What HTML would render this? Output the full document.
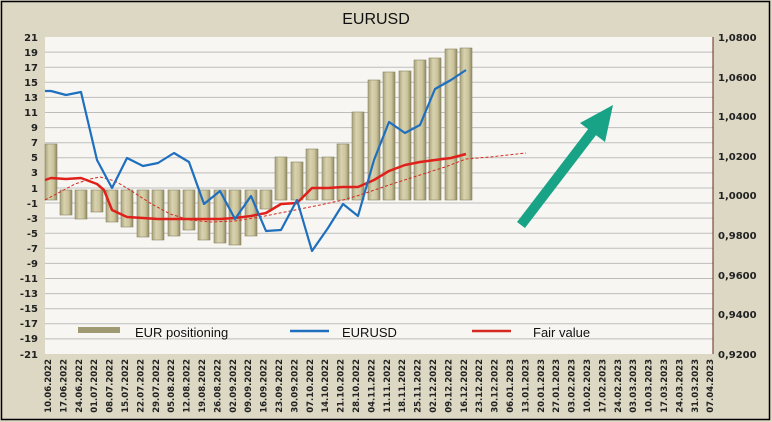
<!DOCTYPE html>
<html><head><meta charset="utf-8"><style>
html,body{margin:0;padding:0;background:#dcd8c4;}
svg{display:block;font-family:"DejaVu Sans","Liberation Sans",sans-serif;}
</style></head><body>
<svg width="772" height="422" viewBox="0 0 772 422" xmlns="http://www.w3.org/2000/svg">
<defs>
<linearGradient id="bar" x1="0" x2="1" y1="0" y2="0">
<stop offset="0" stop-color="#a9a27c"/><stop offset="0.35" stop-color="#d8d2ae"/><stop offset="0.7" stop-color="#cbc49c"/><stop offset="1" stop-color="#8f8863"/>
</linearGradient>
</defs>
<rect x="0" y="0" width="772" height="422" fill="#dcd8c4"/>
<rect x="1.5" y="1.5" width="768" height="418" fill="none" stroke="#000" stroke-width="1.5"/>
<text x="376" y="24" font-size="16" text-anchor="middle" font-family="Liberation Sans, sans-serif" fill="#111">EURUSD</text>
<rect x="45" y="37" width="668" height="317" fill="#f7f6f2"/>
<g stroke="#bdbdbd" stroke-width="1">
<line x1="45" x2="713" y1="52.1" y2="52.1"/><line x1="45" x2="713" y1="67.2" y2="67.2"/><line x1="45" x2="713" y1="82.3" y2="82.3"/><line x1="45" x2="713" y1="97.4" y2="97.4"/><line x1="45" x2="713" y1="112.5" y2="112.5"/><line x1="45" x2="713" y1="127.6" y2="127.6"/><line x1="45" x2="713" y1="142.7" y2="142.7"/><line x1="45" x2="713" y1="157.8" y2="157.8"/><line x1="45" x2="713" y1="172.9" y2="172.9"/><line x1="45" x2="713" y1="188" y2="188"/><line x1="45" x2="713" y1="203" y2="203"/><line x1="45" x2="713" y1="218.1" y2="218.1"/><line x1="45" x2="713" y1="233.2" y2="233.2"/><line x1="45" x2="713" y1="248.3" y2="248.3"/><line x1="45" x2="713" y1="263.4" y2="263.4"/><line x1="45" x2="713" y1="278.5" y2="278.5"/><line x1="45" x2="713" y1="293.6" y2="293.6"/><line x1="45" x2="713" y1="308.7" y2="308.7"/><line x1="45" x2="713" y1="323.8" y2="323.8"/><line x1="45" x2="713" y1="338.9" y2="338.9"/>
</g>
<line x1="713" x2="713" y1="37" y2="354" stroke="#6b2a1a" stroke-width="1"/>
<g font-size="10" font-weight="bold" fill="#222" text-anchor="end">
<text x="38" y="41">21</text><text x="38" y="56">19</text><text x="38" y="71">17</text><text x="38" y="86">15</text><text x="38" y="101">13</text><text x="38" y="116">11</text><text x="38" y="131">9</text><text x="38" y="146">7</text><text x="38" y="161">5</text><text x="38" y="176">3</text><text x="38" y="192">1</text><text x="38" y="207">-1</text><text x="38" y="222">-3</text><text x="38" y="237">-5</text><text x="38" y="252">-7</text><text x="38" y="267">-9</text><text x="38" y="282">-11</text><text x="38" y="297">-13</text><text x="38" y="312">-15</text><text x="38" y="327">-17</text><text x="38" y="342">-19</text><text x="38" y="358">-21</text>
</g>
<g font-size="10" font-weight="bold" fill="#222">
<text x="718" y="41">1,0800</text><text x="718" y="81">1,0600</text><text x="718" y="120">1,0400</text><text x="718" y="160">1,0200</text><text x="718" y="199">1,0000</text><text x="718" y="239">0,9800</text><text x="718" y="279">0,9600</text><text x="718" y="318">0,9400</text><text x="718" y="358">0,9200</text>
</g>
<g fill="url(#bar)" stroke="#8a8463" stroke-width="0.6">
<rect x="45" y="144" width="12" height="56"/>
<rect x="60" y="190" width="12" height="25"/>
<rect x="75" y="190" width="12" height="29"/>
<rect x="91" y="190" width="12" height="22"/>
<rect x="106" y="190" width="12" height="32"/>
<rect x="121" y="190" width="12" height="37"/>
<rect x="137" y="190" width="12" height="47"/>
<rect x="152" y="190" width="12" height="50"/>
<rect x="168" y="190" width="12" height="46"/>
<rect x="183" y="190" width="12" height="40"/>
<rect x="198" y="190" width="12" height="50"/>
<rect x="214" y="190" width="12" height="53"/>
<rect x="229" y="190" width="12" height="55"/>
<rect x="245" y="190" width="12" height="46"/>
<rect x="260" y="190" width="12" height="19"/>
<rect x="275" y="157" width="12" height="43"/>
<rect x="291" y="162" width="12" height="38"/>
<rect x="306" y="149" width="12" height="51"/>
<rect x="322" y="157" width="12" height="43"/>
<rect x="337" y="144" width="12" height="56"/>
<rect x="352" y="112" width="12" height="88"/>
<rect x="368" y="80" width="12" height="120"/>
<rect x="383" y="72" width="12" height="128"/>
<rect x="399" y="71" width="12" height="129"/>
<rect x="414" y="60" width="12" height="140"/>
<rect x="429" y="58" width="12" height="142"/>
<rect x="445" y="49" width="12" height="151"/>
<rect x="460" y="48" width="12" height="152"/>
</g>
<polyline fill="none" stroke="#d42a1f" stroke-width="1" stroke-dasharray="3,2" points="45,200 60,192 75,184 90,179 100,177 115,181 130,190 150,203 170,214 190,220 210,222 235,221 260,217 280,213 300,209 320,205 343,200 360,195 389,185 420,175 445,167 466,159 490,157 526,153"/>
<polyline fill="none" stroke="#e0201a" stroke-width="2.5" stroke-linejoin="round" points="45,180 51,178 66,179 81,178 97,184 104,190 112,210 127,217 143,218 158,219 174,219 189,219 204,219 220,219 235,218 251,216 266,213 281,204 297,203 312,188 328,188 343,187 358,187 374,180 389,171 405,165 420,162 435,160 451,158 466,154"/>
<polyline fill="none" stroke="#1f6fbf" stroke-width="2.2" stroke-linejoin="round" points="45,91 51,91 66,95 81,92 97,160 112,188 127,158 143,166 158,163 174,153 189,162 204,204 220,191 235,219 251,196 266,231 281,230 297,200 312,251 328,228 343,204 358,216 374,160 389,122 405,133 420,125 435,89 451,80 466,70"/>
<line x1="521" y1="225" x2="596" y2="127" stroke="#19a386" stroke-width="10" stroke-linecap="butt"/>
<polygon points="613,105 605,142 580,123" fill="#19a386"/>
<rect x="78" y="327" width="42" height="6" fill="#a09a72"/>
<text x="135" y="337" font-size="13" font-family="Liberation Sans, sans-serif" fill="#111">EUR positioning</text>
<line x1="290" x2="329" y1="331" y2="331" stroke="#1f6fbf" stroke-width="2.5"/>
<text x="342" y="337" font-size="13" font-family="Liberation Sans, sans-serif" fill="#111">EURUSD</text>
<line x1="472" x2="511" y1="331" y2="331" stroke="#d42a1f" stroke-width="2.5"/>
<text x="533" y="337" font-size="13" font-family="Liberation Sans, sans-serif" fill="#111">Fair value</text>
<g font-size="8.5" font-weight="bold" fill="#222" text-anchor="end">
<text transform="translate(51,359) rotate(-90)">10.06.2022</text>
<text transform="translate(66.4,359) rotate(-90)">17.06.2022</text>
<text transform="translate(81.8,359) rotate(-90)">24.06.2022</text>
<text transform="translate(97.2,359) rotate(-90)">01.07.2022</text>
<text transform="translate(112.6,359) rotate(-90)">08.07.2022</text>
<text transform="translate(128,359) rotate(-90)">15.07.2022</text>
<text transform="translate(143.4,359) rotate(-90)">22.07.2022</text>
<text transform="translate(158.8,359) rotate(-90)">29.07.2022</text>
<text transform="translate(174.2,359) rotate(-90)">05.08.2022</text>
<text transform="translate(189.6,359) rotate(-90)">12.08.2022</text>
<text transform="translate(205,359) rotate(-90)">19.08.2022</text>
<text transform="translate(220.4,359) rotate(-90)">26.08.2022</text>
<text transform="translate(235.8,359) rotate(-90)">02.09.2022</text>
<text transform="translate(251.2,359) rotate(-90)">09.09.2022</text>
<text transform="translate(266.6,359) rotate(-90)">16.09.2022</text>
<text transform="translate(282,359) rotate(-90)">23.09.2022</text>
<text transform="translate(297.4,359) rotate(-90)">30.09.2022</text>
<text transform="translate(312.8,359) rotate(-90)">07.10.2022</text>
<text transform="translate(328.2,359) rotate(-90)">14.10.2022</text>
<text transform="translate(343.6,359) rotate(-90)">21.10.2022</text>
<text transform="translate(359,359) rotate(-90)">28.10.2022</text>
<text transform="translate(374.4,359) rotate(-90)">04.11.2022</text>
<text transform="translate(389.8,359) rotate(-90)">11.11.2022</text>
<text transform="translate(405.2,359) rotate(-90)">18.11.2022</text>
<text transform="translate(420.6,359) rotate(-90)">25.11.2022</text>
<text transform="translate(436,359) rotate(-90)">02.12.2022</text>
<text transform="translate(451.4,359) rotate(-90)">09.12.2022</text>
<text transform="translate(466.8,359) rotate(-90)">16.12.2022</text>
<text transform="translate(482.2,359) rotate(-90)">23.12.2022</text>
<text transform="translate(497.6,359) rotate(-90)">30.12.2022</text>
<text transform="translate(513,359) rotate(-90)">06.01.2023</text>
<text transform="translate(528.4,359) rotate(-90)">13.01.2023</text>
<text transform="translate(543.8,359) rotate(-90)">20.01.2023</text>
<text transform="translate(559.2,359) rotate(-90)">27.01.2023</text>
<text transform="translate(574.6,359) rotate(-90)">03.02.2023</text>
<text transform="translate(590,359) rotate(-90)">10.02.2023</text>
<text transform="translate(605.4,359) rotate(-90)">17.02.2023</text>
<text transform="translate(620.8,359) rotate(-90)">24.02.2023</text>
<text transform="translate(636.2,359) rotate(-90)">03.03.2023</text>
<text transform="translate(651.6,359) rotate(-90)">10.03.2023</text>
<text transform="translate(667,359) rotate(-90)">17.03.2023</text>
<text transform="translate(682.4,359) rotate(-90)">24.03.2023</text>
<text transform="translate(697.8,359) rotate(-90)">31.03.2023</text>
<text transform="translate(713.2,359) rotate(-90)">07.04.2023</text>
</g>
</svg>
</body></html>
